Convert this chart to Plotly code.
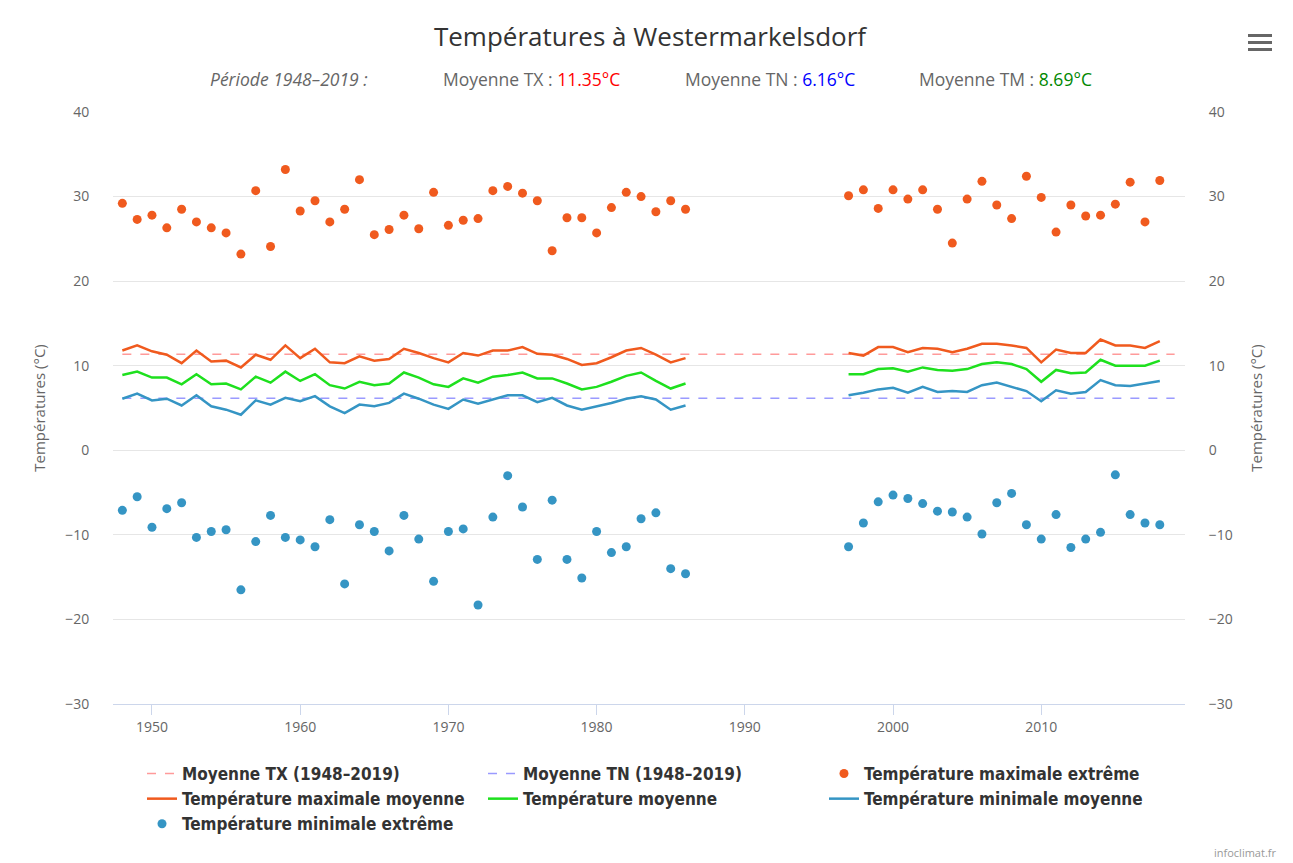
import plotly.graph_objects as go

# ---------------- data ----------------
years_a = list(range(1948, 1987))
years_gap = list(range(1987, 1997))
years_b = list(range(1997, 2019))
years = years_a + years_gap + years_b
gap = [None] * len(years_gap)

tx_ext_a = [29.2, 27.3, 27.8, 26.3, 28.5, 27.0, 26.3, 25.7, 23.2, 30.7, 24.1, 33.2, 28.3, 29.5, 27.0, 28.5, 32.0, 25.5, 26.1, 27.8, 26.2,
            30.5, 26.6, 27.2, 27.4, 30.7, 31.2, 30.4, 29.5, 23.6, 27.5, 27.5, 25.7, 28.7, 30.5, 30.0, 28.2, 29.5, 28.5]
tx_ext_b = [30.1, 30.8, 28.6, 30.8, 29.7, 30.8, 28.5, 24.5, 29.7, 31.8, 29.0, 27.4, 32.4, 29.9, 25.8, 29.0, 27.7, 27.8, 29.1, 31.7, 27.0, 31.9]

tn_ext_a = [-7.1, -5.5, -9.1, -6.9, -6.2, -10.3, -9.6, -9.4, -16.5, -10.8, -7.7, -10.3, -10.6, -11.4, -8.2, -15.8, -8.8, -9.6, -11.9, -7.7, -10.5,
            -15.5, -9.6, -9.3, -18.3, -7.9, -3.0, -6.7, -12.9, -5.9, -12.9, -15.1, -9.6, -12.1, -11.4, -8.1, -7.4, -14.0, -14.6]
tn_ext_b = [-11.4, -8.6, -6.1, -5.3, -5.7, -6.3, -7.2, -7.3, -7.9, -9.9, -6.2, -5.1, -8.8, -10.5, -7.6, -11.5, -10.5, -9.7, -2.9, -7.6, -8.6, -8.8]

tx_mean_a = [11.8, 12.4, 11.7, 11.3, 10.3, 11.8, 10.5, 10.6, 9.8, 11.3, 10.7, 12.4, 10.9, 12.0, 10.4, 10.3, 11.1, 10.6, 10.8, 12.0, 11.5,
             10.9, 10.4, 11.5, 11.2, 11.8, 11.8, 12.2, 11.4, 11.3, 10.8, 10.1, 10.3, 11.0, 11.8, 12.1, 11.3, 10.4, 10.9]
tx_mean_b = [11.5, 11.2, 12.2, 12.2, 11.6, 12.1, 12.0, 11.6, 12.0, 12.6, 12.6, 12.4, 12.1, 10.4, 11.9, 11.5, 11.5, 13.1, 12.4, 12.4, 12.1, 12.9]

tm_a = [8.9, 9.3, 8.6, 8.6, 7.8, 9.0, 7.8, 7.9, 7.2, 8.7, 8.0, 9.3, 8.2, 9.0, 7.7, 7.3, 8.1, 7.7, 7.9, 9.2, 8.6,
        7.8, 7.5, 8.5, 8.0, 8.7, 8.9, 9.2, 8.5, 8.5, 7.9, 7.2, 7.5, 8.1, 8.8, 9.2, 8.2, 7.3, 7.9]
tm_b = [9.0, 9.0, 9.6, 9.7, 9.3, 9.8, 9.5, 9.4, 9.6, 10.2, 10.4, 10.2, 9.6, 8.1, 9.5, 9.1, 9.2, 10.7, 10.0, 10.0, 10.0, 10.6]

tn_mean_a = [6.1, 6.7, 5.9, 6.1, 5.3, 6.5, 5.2, 4.8, 4.2, 5.9, 5.4, 6.2, 5.8, 6.4, 5.2, 4.4, 5.4, 5.2, 5.6, 6.7, 6.1,
             5.4, 4.9, 6.0, 5.5, 6.0, 6.5, 6.5, 5.7, 6.2, 5.3, 4.8, 5.2, 5.6, 6.1, 6.4, 6.0, 4.8, 5.3]
tn_mean_b = [6.5, 6.8, 7.2, 7.4, 6.8, 7.5, 6.9, 7.0, 6.9, 7.7, 8.0, 7.5, 7.0, 5.8, 7.1, 6.7, 6.9, 8.3, 7.7, 7.6, 7.9, 8.2]

period_years = [1948, 2019]
moy_tx = 11.35
moy_tn = 6.16
moy_tm = 8.69

tx_ext = tx_ext_a + gap + tx_ext_b
tn_ext = tn_ext_a + gap + tn_ext_b
tx_mean = tx_mean_a + gap + tx_mean_b
tm = tm_a + gap + tm_b
tn_mean = tn_mean_a + gap + tn_mean_b

# ---------------- styling ----------------
C_ORANGE = "#f05a1e"
C_GREEN = "#1ee01e"
C_BLUE = "#3595c4"
C_TXDASH = "#ff9a9a"
C_TNDASH = "#9a9aff"
FONT = "Open Sans, Roboto, sans-serif"
LEG_FONT = "DejaVu Sans Condensed, DejaVu Sans, sans-serif"

OFF = 8  # page body margin
W, H = 1293 - OFF, 863 - OFF
# plot area edges in screenshot pixels
L, R, T, B = 113, 1185, 112, 704


def px(x):
    return (x - L) / (R - L)


def py(y):
    return (B - y) / (B - T)


fig = go.Figure()

fig.add_trace(go.Scatter(x=period_years, y=[moy_tx, moy_tx], mode="lines",
                         line=dict(color=C_TXDASH, width=1.5, dash="dash"),
                         name="Moyenne TX (1948–2019)"))
fig.add_trace(go.Scatter(x=period_years, y=[moy_tn, moy_tn], mode="lines",
                         line=dict(color=C_TNDASH, width=1.5, dash="dash"),
                         name="Moyenne TN (1948–2019)"))
fig.add_trace(go.Scatter(x=years, y=tx_ext, mode="markers",
                         marker=dict(color=C_ORANGE, size=9, line=dict(width=0)),
                         name="Température maximale extrême"))
fig.add_trace(go.Scatter(x=years, y=tx_mean, mode="lines",
                         line=dict(color=C_ORANGE, width=2.5),
                         name="Température maximale moyenne"))
fig.add_trace(go.Scatter(x=years, y=tm, mode="lines",
                         line=dict(color=C_GREEN, width=2.5),
                         name="Température moyenne"))
fig.add_trace(go.Scatter(x=years, y=tn_mean, mode="lines",
                         line=dict(color=C_BLUE, width=2.5),
                         name="Température minimale moyenne"))
fig.add_trace(go.Scatter(x=years, y=tn_ext, mode="markers",
                         marker=dict(color=C_BLUE, size=9, line=dict(width=0)),
                         name="Température minimale extrême"))
# helper trace so the right axis is drawn
fig.add_trace(go.Scatter(x=[period_years[0]], y=[0], mode="markers", yaxis="y2",
                         marker=dict(opacity=0), showlegend=False, hoverinfo="skip"))

axis_common = dict(range=[-30, 40], tickvals=[-30, -20, -10, 0, 10, 20, 30, 40],
                   tickfont=dict(family=FONT, size=14, color="#666666"),
                   ticks="outside", ticklen=20, tickcolor="rgba(0,0,0,0)",
                   zeroline=False, showline=False, fixedrange=True)

fig.update_layout(
    width=W, height=H,
    margin=dict(l=L - OFF, r=W - (R - OFF), t=T - OFF, b=H - (B - OFF), autoexpand=False),
    paper_bgcolor="white", plot_bgcolor="white",
    font=dict(family=FONT, color="#333333"),
    title=dict(text="Températures à Westermarkelsdorf", x=(650 - OFF) / W, xanchor="center",
               y=1 - (37 - OFF) / H, yanchor="middle",
               font=dict(family=FONT, size=26, color="#333333")),
    xaxis=dict(range=[1947.37, 2019.7], tickvals=[1950, 1960, 1970, 1980, 1990, 2000, 2010],
               showgrid=False, zeroline=False, showline=True, linecolor="#ccd6eb", linewidth=1,
               ticks="outside", ticklen=10, tickcolor="#ccd6eb",
               tickfont=dict(family=FONT, size=14, color="#666666")),
    yaxis=dict(**axis_common, showgrid=True, gridcolor="#e6e6e6", gridwidth=1,
               title=dict(text="Températures (°C)", standoff=15,
                          font=dict(family=FONT, size=15, color="#666666"))),
    yaxis2=dict(**axis_common, overlaying="y", side="right", showgrid=False,
                title=dict(text="Températures (°C)", standoff=19,
                           font=dict(family=FONT, size=15, color="#666666"))),
    legend=dict(orientation="h", x=px(142), xanchor="left", y=py(756), yanchor="top",
                entrywidth=296, entrywidthmode="pixels", traceorder="normal",
                font=dict(family=LEG_FONT, size=17, color="#333333", weight="bold"),
                itemclick=False, itemdoubleclick=False),
    showlegend=True,
)

# subtitle pieces
sub_y = py(79)
SUB = 17.5
fig.add_annotation(x=px(208), y=sub_y, xref="paper", yref="paper", xanchor="left", yanchor="middle",
                   text="<i>Période 1948–2019 :</i>", showarrow=False,
                   font=dict(family=FONT, size=SUB, color="#666666"))
fig.add_annotation(x=px(441), y=sub_y, xref="paper", yref="paper", xanchor="left", yanchor="middle",
                   text=f"Moyenne TX : <span style='color:#ff0000'>{moy_tx:.2f}°C</span>", showarrow=False,
                   font=dict(family=FONT, size=SUB, color="#666666"))
fig.add_annotation(x=px(683), y=sub_y, xref="paper", yref="paper", xanchor="left", yanchor="middle",
                   text=f"Moyenne TN : <span style='color:#0000ff'>{moy_tn:.2f}°C</span>", showarrow=False,
                   font=dict(family=FONT, size=SUB, color="#666666"))
fig.add_annotation(x=px(917), y=sub_y, xref="paper", yref="paper", xanchor="left", yanchor="middle",
                   text=f"Moyenne TM : <span style='color:#008800'>{moy_tm:.2f}°C</span>", showarrow=False,
                   font=dict(family=FONT, size=SUB, color="#666666"))

# credit
fig.add_annotation(x=px(1278), y=py(852), xref="paper", yref="paper", xanchor="right", yanchor="middle",
                   text="infoclimat.fr", showarrow=False,
                   font=dict(family=FONT, size=11, color="#999999"))

# hamburger menu icon
for yy in (34, 41, 48):
    fig.add_shape(type="rect", xref="paper", yref="paper",
                  x0=px(1248), x1=px(1272), y0=py(yy + 3), y1=py(yy),
                  fillcolor="#666666", line=dict(width=0))

fig.write_html("out.html")
